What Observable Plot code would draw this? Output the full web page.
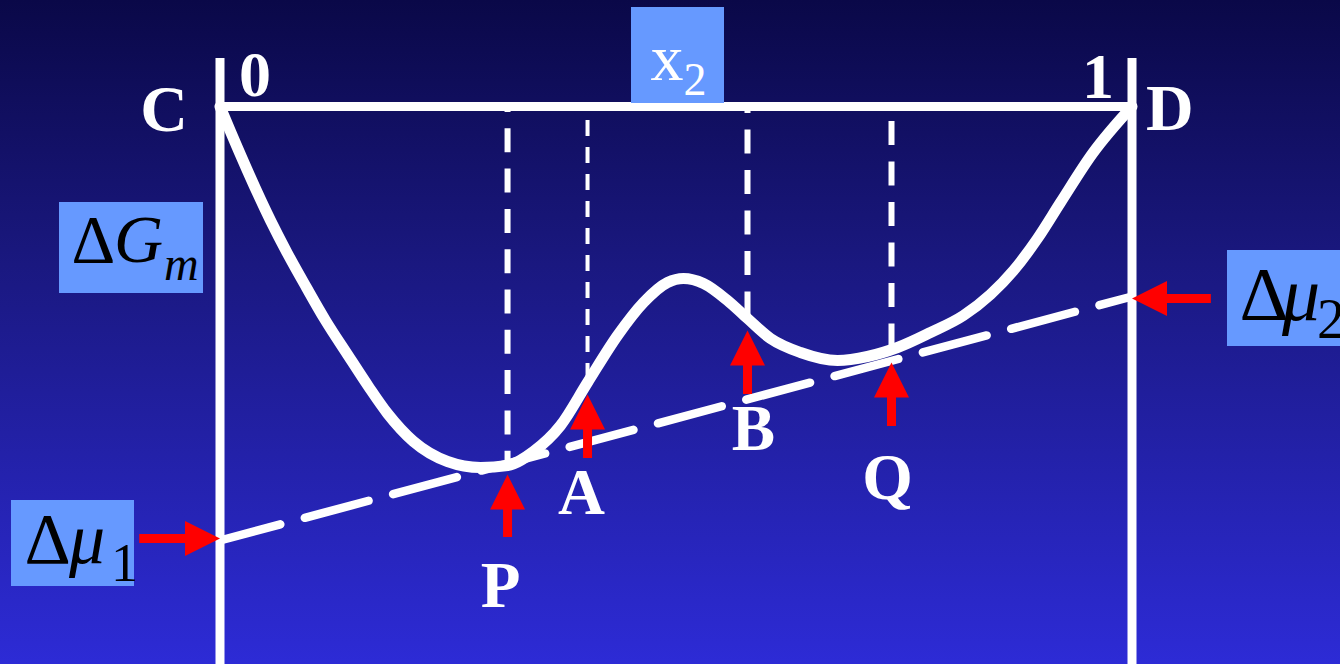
<!DOCTYPE html>
<html><head><meta charset="utf-8">
<script src="https://cdn.jsdelivr.net/npm/d3@7"></script>
<script src="https://cdn.jsdelivr.net/npm/@observablehq/plot@0.6"></script>
<style>
html,body{margin:0;padding:0;background:#0a0a4a;overflow:hidden}
#chart svg{display:block}
</style></head><body><div id="chart"></div>
<script>
// ---- data (x2 = mole fraction, G = ΔGm in arbitrary units) ----
const curveX2 = [0, 0.0115, 0.0554, 0.0740, 0.0948, 0.1157, 0.1398, 0.1628, 0.1837, 0.2122, 0.2495, 0.2857, 0.3153, 0.3438, 0.3734, 0.4030, 0.4359, 0.4644, 0.4907, 0.5082, 0.5302, 0.5565, 0.5784, 0.6036, 0.6365, 0.6771, 0.7100, 0.7429, 0.7791, 0.8152, 0.8448, 0.8701, 0.8964, 0.9216, 0.9567, 1];
const curveG  = [0, -0.25, -1.14, -1.47, -1.81, -2.14, -2.48, -2.80, -3.07, -3.35, -3.55, -3.61, -3.59, -3.45, -3.19, -2.76, -2.29, -1.96, -1.76, -1.72, -1.77, -1.94, -2.12, -2.32, -2.46, -2.54, -2.50, -2.41, -2.26, -2.09, -1.88, -1.64, -1.32, -0.96, -0.47, 0];
const tangentX2 = [0, 1];
const tangentG  = [-4.34, -1.90];
const pointNames   = ["P", "A", "B", "Q"];
const pointX2      = [0.3153, 0.4030, 0.5784, 0.7363];
const pointCurveG  = [-3.59, -2.76, -2.12, -2.43];
const arrowTipG    = [-3.68, -2.88, -2.24, -2.56];
const arrowTailG   = [-4.31, -3.52, -2.88, -3.20];
const labelX2      = [0.3076, 0.3964, 0.5850, 0.7320];
const labelG       = [-5.00, -4.07, -3.43, -3.92];
const muTipX2  = [0, 1];
const muTailX2 = [-0.088, 1.087];
const muArrowG = [-4.32, -1.92];
const tickX2 = [0, 1];
const tickLabels = ["0", "1"];
const cornerLabels = ["C", "D"];

const curve = curveX2.map((x, i) => ({x, g: curveG[i]}));
const tangent = tangentX2.map((x, i) => ({x, g: tangentG[i]}));
const idx = d3.range(pointNames.length);

const serif = "'Liberation Serif', 'Times New Roman', serif";
const white = "#ffffff", red = "#ff0000", boxFill = "#6699ff";
// arrowheads: tip at the data point
const upHead = {draw(ctx){ctx.moveTo(0,0);ctx.lineTo(17.5,35);ctx.lineTo(-17.5,35);ctx.closePath();}};
const rightHead = {draw(ctx){ctx.moveTo(0,0);ctx.lineTo(-35,17.5);ctx.lineTo(-35,-17.5);ctx.closePath();}};
const leftHead = {draw(ctx){ctx.moveTo(0,0);ctx.lineTo(35,17.5);ctx.lineTo(35,-17.5);ctx.closePath();}};

const vStyles = [
  {w: 6, dash: "24,16.3", off: 18},
  {w: 4, dash: "16,11", off: 13},
  {w: 6, dash: "24,16.5", off: 17},
  {w: 6, dash: "24,16.5", off: 25.5}
];

const T = (text, o) => Plot.text([text], {fontFamily: serif, lineAnchor: "bottom", ...o, text: () => text});

const marks = [
  // frame
  Plot.ruleX(tickX2, {x: d => d, insetTop: 58, stroke: white, strokeWidth: 9}),
  Plot.ruleY([0], {y: d => d, x1: tickX2[0], x2: tickX2[1], stroke: white, strokeWidth: 9}),
  // tangent
  Plot.line(tangent, {x: "x", y: "g", stroke: white, strokeWidth: 8.5, strokeDasharray: "66,25.4", strokeDashoffset: 3.6}),
  // vertical dashed guides
  ...idx.map(i => Plot.ruleX([i], {x: () => pointX2[i], y1: 0, y2: () => pointCurveG[i], stroke: white,
      strokeWidth: vStyles[i].w, strokeDasharray: vStyles[i].dash, strokeDashoffset: vStyles[i].off})),
  // curve
  Plot.line(curve, {x: "x", y: "g", curve: "monotone-x", stroke: white, strokeWidth: 11, strokeLinejoin: "round"}),
  // red arrows
  Plot.ruleX(idx, {x: i => pointX2[i], y1: i => arrowTipG[i], y2: i => arrowTailG[i], insetTop: 20, stroke: red, strokeWidth: 9}),
  Plot.dot(idx, {x: i => pointX2[i], y: i => arrowTipG[i], symbol: upHead, fill: red, stroke: "none", r: 5}),
  Plot.ruleY([0], {y: () => muArrowG[0], x1: () => muTailX2[0], x2: () => muTipX2[0], insetRight: 20, stroke: red, strokeWidth: 9}),
  Plot.ruleY([1], {y: () => muArrowG[1], x1: () => muTipX2[1], x2: () => muTailX2[1], insetLeft: 20, stroke: red, strokeWidth: 9}),
  Plot.dot([0], {x: () => muTipX2[0], y: () => muArrowG[0], symbol: rightHead, fill: red, stroke: "none", r: 5}),
  Plot.dot([1], {x: () => muTipX2[1], y: () => muArrowG[1], symbol: leftHead, fill: red, stroke: "none", r: 5}),
  // point labels
  Plot.text(idx, {x: i => labelX2[i], y: i => labelG[i], text: i => pointNames[i], fontFamily: serif, fontWeight: "bold",
      fontSize: 65, fill: white, lineAnchor: "bottom", textAnchor: "middle"}),
  // tick labels and corners
  T(tickLabels[0], {x: () => tickX2[0], y: () => 0, dx: 19, dy: -11, textAnchor: "start", fontSize: 64, fontWeight: "bold", fill: white}),
  T(tickLabels[1], {x: () => tickX2[1], y: () => 0, dx: -18, dy: -9, textAnchor: "end", fontSize: 64, fontWeight: "bold", fill: white}),
  T(cornerLabels[0], {x: () => tickX2[0], y: () => 0, dx: -32, dy: 24, textAnchor: "end", fontSize: 66, fontWeight: "bold", fill: white}),
  T(cornerLabels[1], {x: () => tickX2[1], y: () => 0, dx: 14, dy: 23, textAnchor: "start", fontSize: 66, fontWeight: "bold", fill: white}),
  // x2 box
  Plot.rect([0], {x1: () => 0.5, x2: () => 0.5, y1: () => 0, y2: () => 0, insetLeft: -44.5, insetRight: -48.5, insetTop: -99, insetBottom: 3, fill: boxFill}),
  T("x", {x: () => 0.5, y: () => 0, dx: 7.5, dy: -27, textAnchor: "end", fontSize: 66, fill: white}),
  T("2", {x: () => 0.5, y: () => 0, dx: 7.5, dy: -12, textAnchor: "start", fontSize: 46, fill: white}),
  // ΔGm box
  Plot.rect([0], {x1: () => 0, x2: () => 0, y1: () => 0, y2: () => 0, insetLeft: -160.5, insetRight: 16.5, insetTop: 96, insetBottom: -187, fill: boxFill}),
  T("Δ", {x: () => 0, y: () => 0, dx: -148.5, dy: 155, textAnchor: "start", fontSize: 68, fill: "black"}),
  T("G", {x: () => 0, y: () => 0, dx: -106, dy: 155, textAnchor: "start", fontSize: 68, fontStyle: "italic", fill: "black"}),
  T("m", {x: () => 0, y: () => 0, dx: -56, dy: 173, textAnchor: "start", fontSize: 48, fontStyle: "italic", fill: "black"}),
  // Δμ1 box
  Plot.rect([0], {x1: () => tangentX2[0], x2: () => tangentX2[0], y1: () => tangentG[0], y2: () => tangentG[0], insetLeft: -208.5, insetRight: 85.5, insetTop: -40, insetBottom: -46, fill: boxFill}),
  T("Δ", {x: () => tangentX2[0], y: () => tangentG[0], dx: -195.5, dy: 22, textAnchor: "start", fontSize: 72, fill: "black"}),
  T("μ", {x: () => tangentX2[0], y: () => tangentG[0], dx: -151, dy: 22, textAnchor: "start", fontSize: 72, fontStyle: "italic", fill: "black"}),
  T("1", {x: () => tangentX2[0], y: () => tangentG[0], dx: -109, dy: 40, textAnchor: "start", fontSize: 54, fill: "black"}),
  // Δμ2 box
  Plot.rect([0], {x1: () => tangentX2[1], x2: () => tangentX2[1], y1: () => tangentG[1], y2: () => tangentG[1], insetLeft: 95.5, insetRight: -218.5, insetTop: -46, insetBottom: -50, fill: boxFill}),
  T("Δ", {x: () => tangentX2[1], y: () => tangentG[1], dx: 107.5, dy: 23, textAnchor: "start", fontSize: 76, fill: "black"}),
  T("μ", {x: () => tangentX2[1], y: () => tangentG[1], dx: 150, dy: 23, textAnchor: "start", fontSize: 76, fontStyle: "italic", fill: "black"}),
  T("2", {x: () => tangentX2[1], y: () => tangentG[1], dx: 185, dy: 41, textAnchor: "start", fontSize: 56, fill: "black"})
];

const chart = Plot.plot({
  width: 1340, height: 664,
  marginTop: 0, marginRight: 0, marginBottom: 0, marginLeft: 0,
  x: {domain: [0, 1], range: [219.5, 1131.5], axis: null},
  y: {domain: [0, -5], range: [106, 606], axis: null},
  style: {background: "linear-gradient(to bottom, #0a0848 0%, #1a1880 40%, #2d2bd6 100%)", overflow: "hidden"},
  marks
});
document.getElementById("chart").appendChild(chart);
</script></body></html>
